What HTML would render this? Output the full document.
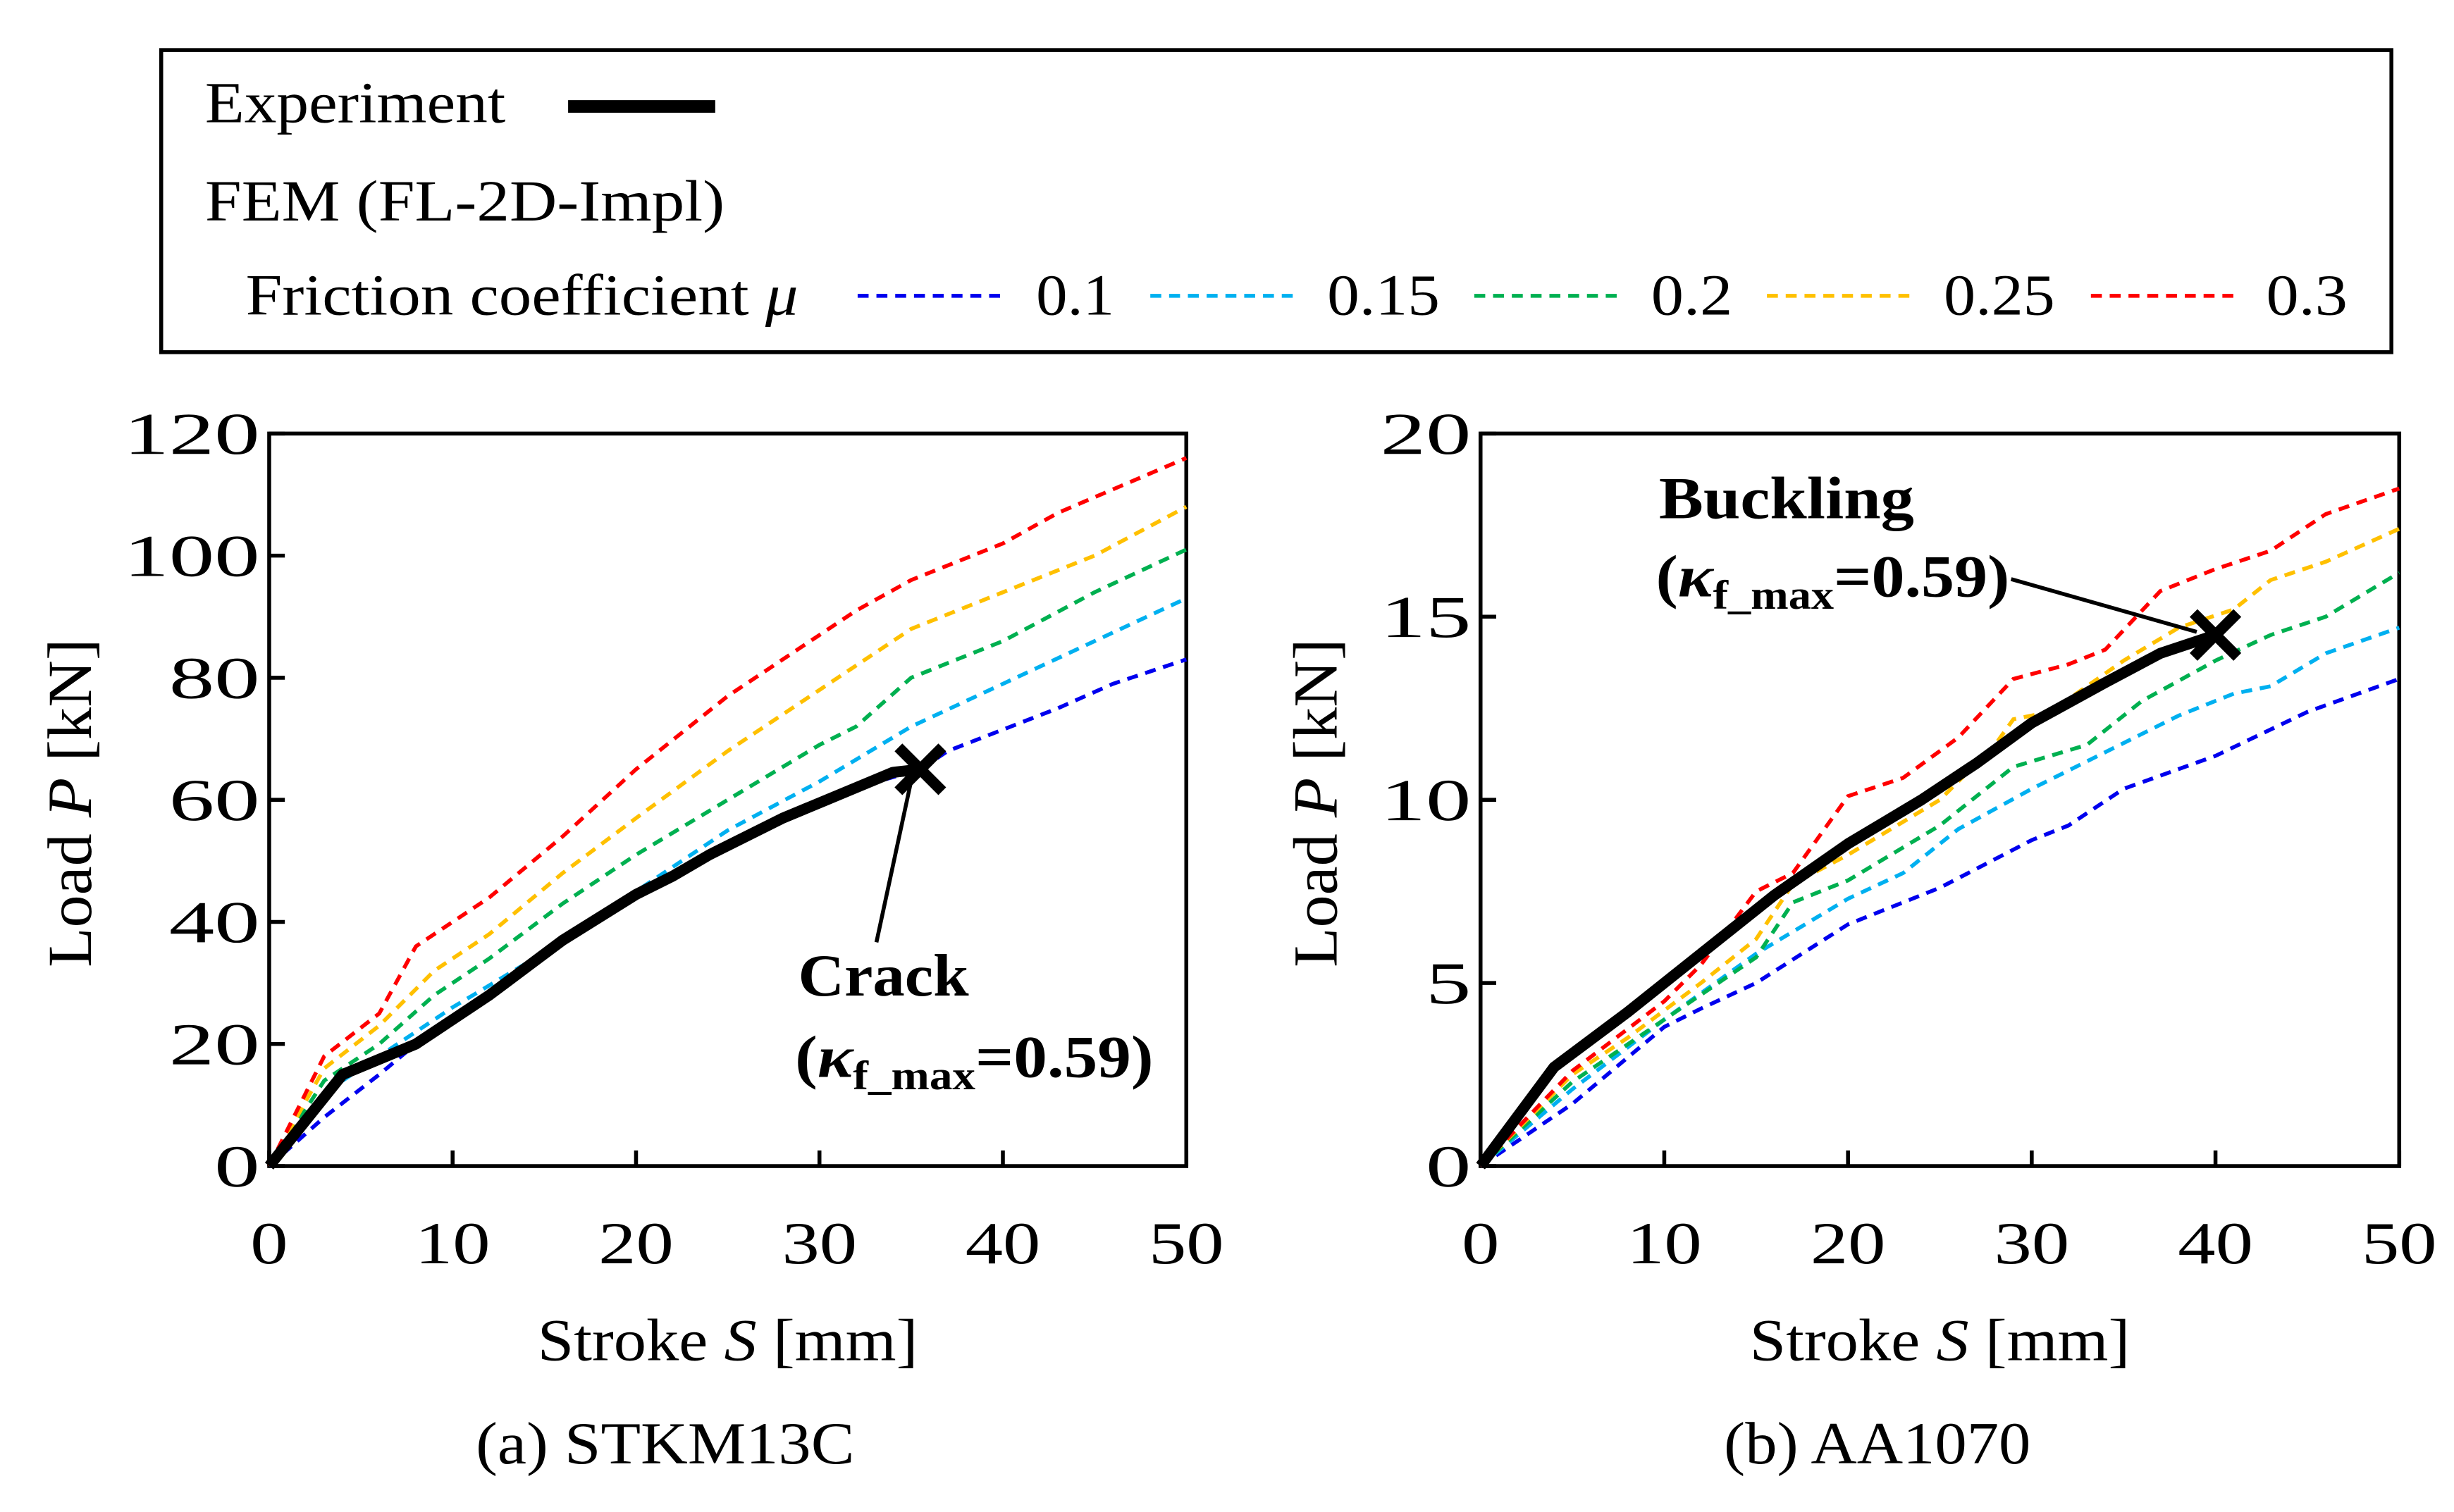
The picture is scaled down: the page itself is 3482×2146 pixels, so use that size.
<!DOCTYPE html>
<html><head><meta charset="utf-8"><style>
html,body{margin:0;padding:0;background:#fff}
svg{display:block;font-family:"Liberation Serif",serif}
</style></head><body>
<svg id="c" width="3482" height="2146" viewBox="0 0 1568 966" preserveAspectRatio="none" xmlns="http://www.w3.org/2000/svg">
<g>
<rect x="103" y="32" width="1425" height="193" fill="#fff" stroke="#000" stroke-width="2.5"/>
<text x="131" y="78" font-size="37" textLength="192" lengthAdjust="spacingAndGlyphs">Experiment</text>
<line x1="363" y1="68" x2="457" y2="68" stroke="#000" stroke-width="8"/>
<text x="131" y="141" font-size="37" textLength="332" lengthAdjust="spacingAndGlyphs">FEM (FL-2D-Impl)</text>
<text x="157" y="201" font-size="37" textLength="353" lengthAdjust="spacingAndGlyphs">Friction coefficient <tspan font-style="italic">μ</tspan></text>
<line x1="548" y1="189" x2="640" y2="189" stroke="#0000ee" stroke-width="2.5" stroke-dasharray="7,5"/><text x="662" y="201" font-size="37" textLength="50" lengthAdjust="spacingAndGlyphs">0.1</text>
<line x1="735" y1="189" x2="827" y2="189" stroke="#00b0f0" stroke-width="2.5" stroke-dasharray="7,5"/><text x="848" y="201" font-size="37" textLength="72" lengthAdjust="spacingAndGlyphs">0.15</text>
<line x1="942" y1="189" x2="1034" y2="189" stroke="#00b050" stroke-width="2.5" stroke-dasharray="7,5"/><text x="1055" y="201" font-size="37" textLength="52" lengthAdjust="spacingAndGlyphs">0.2</text>
<line x1="1129" y1="189" x2="1221" y2="189" stroke="#ffc000" stroke-width="2.5" stroke-dasharray="7,5"/><text x="1242" y="201" font-size="37" textLength="71" lengthAdjust="spacingAndGlyphs">0.25</text>
<line x1="1336" y1="189" x2="1428" y2="189" stroke="#ff0000" stroke-width="2.5" stroke-dasharray="7,5"/><text x="1448" y="201" font-size="37" textLength="52" lengthAdjust="spacingAndGlyphs">0.3</text>
</g>
<g id="pa"></g>
<g id="pb"></g>
</svg>
<script>
const strokeTicks=[0,10,20,30,40,50];
const loadTicksA=[0,20,40,60,80,100,120];
const loadTicksB=[0,5,10,15,20];
const colors=["#0000ee","#00b0f0","#00b050","#ffc000","#ff0000"];
// plot (a) STKM13C
const aExpS=[0,4,8,12,16,20,22,24,28,32,34,35.5];
const aExpP=[0,15,20,28,37,44.5,47.5,51,57,62,64.5,65];
const aS01=[0,3,6,8,12,16,20,24,28,32,35.5,37,43,46,50];
const aP01=[0,8,15,20,28,37,44.5,51,57,62,65,68,75,79,83];
const aS015=[0,3,6,10,15,20,25,30,35,40,45,50];
const aP015=[0,12,18,26,35,45,55,63,72,79,86,93];
const aS02=[0,3,6,9,12,16,20,25,30,32,35,40,45,50];
const aP02=[0,14,20,28,34,43,51,60,69,72,80,86,94,101];
const aS025=[0,3,6,9,12,16,20,25,30,35,40,45,50];
const aP025=[0,16,23,32,38,48,57,68,78,88,94,100,108];
const aS03=[0,3,6,8,12,16,20,25,30,32,35,40,43,50];
const aP03=[0,18,25,36,44,54,65,77,87,91,96,102,107,116];
// plot (b) AA1070
const bExpS=[0,4,8,12,16,20,24,27,30,34,37,40];
const bExpP=[0,2.7,4.2,5.8,7.4,8.8,10,11,12.1,13.2,14,14.5];
const bS01=[0,5,10,12,15,20,25,30,32,35,40,45,50];
const bP01=[0,1.7,3.8,4.3,5,6.6,7.6,8.9,9.3,10.3,11.2,12.4,13.3];
const bS015=[0,5,10,15,20,23,26,30,34,38,41,43,46,50];
const bP015=[0,2.1,4,5.8,7.3,8,9.2,10.3,11.3,12.3,12.9,13.1,14,14.7];
const bS02=[0,5,10,15,17,20,25,29,31,33,36,40,43,46,50];
const bP02=[0,2.3,4,5.7,7.2,7.8,9.3,10.9,11.2,11.5,12.7,13.8,14.5,15,16.2];
const bS025=[0,5,8,12,15,17,20,25,28,29,31,35,38,41,43,46,50];
const bP025=[0,2.5,3.5,5,6.2,7.7,8.5,10,11.5,12.2,12.4,13.8,14.7,15.2,16,16.5,17.4];
const bS03=[0,5,10,12,15,17,20,23,26,29,32,34,37,40,43,46,50];
const bP03=[0,2.6,4.5,5.5,7.5,8,10.1,10.6,11.7,13.3,13.7,14.1,15.7,16.3,16.8,17.8,18.5];

const NS="http://www.w3.org/2000/svg";
function mk(parent,tag,attrs,text){const e=document.createElementNS(NS,tag);for(const k in attrs)e.setAttribute(k,attrs[k]);if(text!==undefined)e.textContent=text;parent.appendChild(e);return e;}

function plot(g,x0,x1,y0,y1,ymax,yTicks,seriesS,seriesP,expS,expP,caption,capLen,ytOff){
  const sx=v=>x0+(v/50)*(x1-x0);
  const sy=v=>y0-(v/ymax)*(y0-y1);
  const fr=mk(g,'rect',{x:x0,y:y1,width:x1-x0,height:y0-y1,fill:'none',stroke:'#000','stroke-width':2.5});
  
  
  strokeTicks.forEach(t=>{
    const l=mk(g,'line',{x1:sx(t),x2:sx(t),y1:y0,y2:y0-10,stroke:'#000','stroke-width':2.5});
    
    
    const s=String(t);
    const tx=mk(g,'text',{x:sx(t),y:y0+62,'font-size':38,'text-anchor':'middle',textLength:s.length*24,lengthAdjust:'spacingAndGlyphs'},s);
    
    
  });
  yTicks.forEach(t=>{
    const l=mk(g,'line',{x1:x0,x2:x0+10,y1:sy(t),y2:sy(t),stroke:'#000','stroke-width':2.5});
    
    
    const s=String(t);
    const tx=mk(g,'text',{x:x0-6,y:sy(t)+13,'font-size':38,'text-anchor':'end',textLength:s.length*29,lengthAdjust:'spacingAndGlyphs'},s);
    
    
  });
  const xl=mk(g,'text',{x:(x0+x1)/2,y:y0+124,'font-size':38,'text-anchor':'middle',textLength:243,lengthAdjust:'spacingAndGlyphs'});
  
  
  xl.innerHTML='Stroke <tspan font-style="italic">S</tspan> [mm]';
  const cx=x0-ytOff, cy=513;
  const yl=mk(g,'text',{x:cx,y:cy,'font-size':40,'text-anchor':'middle',textLength:210,lengthAdjust:'spacingAndGlyphs',transform:`rotate(-90 ${cx} ${cy})`});
  
  
  yl.innerHTML='Load <tspan font-style="italic">P</tspan> [kN]';
  const cp=mk(g,'text',{x:(x0+x1)/2-40,y:y0+190,'font-size':38,'text-anchor':'middle',textLength:capLen,lengthAdjust:'spacingAndGlyphs'},caption);
  
  
  seriesS.forEach((S,i)=>{
    const pts=S.map((s,j)=>sx(s)+','+sy(seriesP[i][j])).join(' ');
    const pl=mk(g,'polyline',{points:pts,fill:'none',stroke:colors[i],'stroke-width':2.5,'stroke-dasharray':'7,5'});
    
    
  });
  const pts=expS.map((s,j)=>sx(s)+','+sy(expP[j])).join(' ');
  const ex=mk(g,'polyline',{points:pts,fill:'none',stroke:'#000','stroke-width':7,'stroke-linejoin':'round'});
  
  
  const n=expS.length-1, mx=sx(expS[n]), my=sy(expP[n]);
  const xm=mk(g,'path',{d:`M${mx-14},${my-14}L${mx+14},${my+14}M${mx-14},${my+14}L${mx+14},${my-14}`,stroke:'#000','stroke-width':7});
  
  
  return {sx,sy,mx,my};
}
const A=plot(document.getElementById('pa'),172,758,745,277,120,loadTicksA,[aS01,aS015,aS02,aS025,aS03],[aP01,aP015,aP02,aP025,aP03],aExpS,aExpP,'(a) STKM13C',242,114);
const B=plot(document.getElementById('pb'),946,1533,745,277,20,loadTicksB,[bS01,bS015,bS02,bS025,bS03],[bP01,bP015,bP02,bP025,bP03],bExpS,bExpP,'(b) AA1070',196,92);
const ga=document.getElementById('pa'), gb=document.getElementById('pb');
let e;
e=mk(ga,'line',{x1:A.mx-6,y1:A.my+8,x2:560,y2:602,stroke:'#000','stroke-width':2.5});


e=mk(ga,'text',{x:510,y:636,'font-size':38,'font-weight':'bold',textLength:109,lengthAdjust:'spacingAndGlyphs'},'Crack');


e=mk(ga,'text',{x:508,y:688,'font-size':38,'font-weight':'bold',textLength:229,lengthAdjust:'spacingAndGlyphs'});


e.innerHTML='(<tspan font-style="italic">κ</tspan><tspan font-size="26" dy="8">f_max</tspan><tspan dy="-8">=0.59)</tspan>';
e=mk(gb,'line',{x1:1285,y1:370,x2:B.mx-12,y2:B.my-2,stroke:'#000','stroke-width':2.5});


e=mk(gb,'text',{x:1060,y:331,'font-size':38,'font-weight':'bold',textLength:163,lengthAdjust:'spacingAndGlyphs'},'Buckling');


e=mk(gb,'text',{x:1058,y:381,'font-size':38,'font-weight':'bold',textLength:226,lengthAdjust:'spacingAndGlyphs'});


e.innerHTML='(<tspan font-style="italic">κ</tspan><tspan font-size="26" dy="8">f_max</tspan><tspan dy="-8">=0.59)</tspan>';
</script>
</body></html>
